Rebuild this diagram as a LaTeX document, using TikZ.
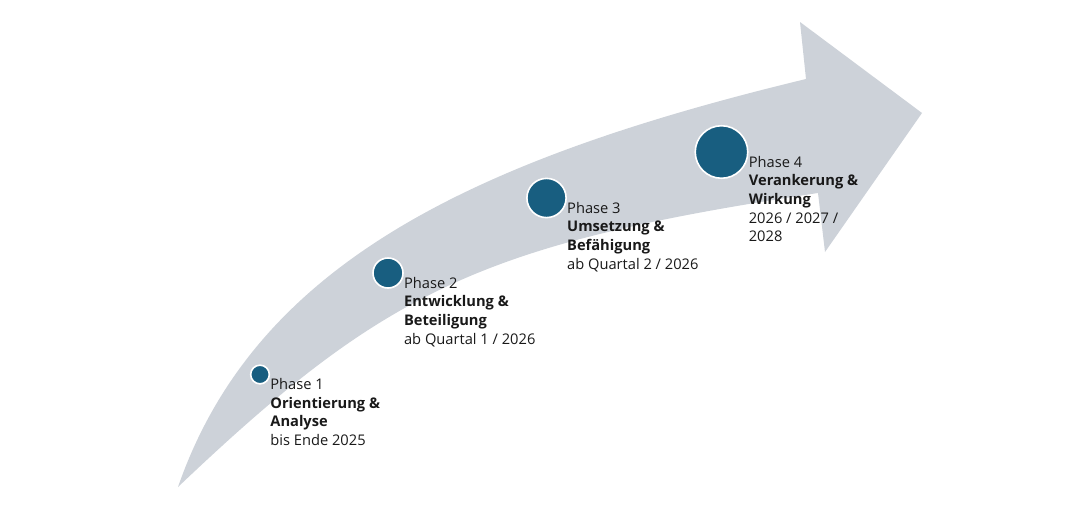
\documentclass[tikz,border=0pt]{standalone}
\usepackage{fontspec}
\setmainfont{Open Sans}
\usepackage{tikz}
\definecolor{phaseblue}{RGB}{24,94,128}
\definecolor{arrowgrey}{RGB}{205,210,217}
\definecolor{textgrey}{RGB}{25,25,25}
\tikzstyle{phase} = [
    circle, fill=phaseblue, draw=white, line width=1.2pt, inner sep=0pt
]
\tikzstyle{phasetext} = [
    anchor=north west, align=left, inner sep=0pt, text=textgrey,
    font=\fontsize{11}{13.9}\selectfont, yshift=-3pt
]

\begin{document}
\begin{tikzpicture}[x=0.75pt, y=-0.75pt]
        \useasboundingbox (0,0) rectangle (1070,525);
        \fill [arrowgrey] (178,487)
            .. controls (255,265) and (470,160) .. (806,79)
            -- (800,22) -- (922,113) -- (825,252) -- (818,193)
            .. controls (481.7,243.8) and (385.6,289.6) .. (178,487)
            -- cycle;
        \node (p1) [phase, minimum size=14pt] at (260,374.5) {};
        \node (p2) [phase, minimum size=22.5pt] at (388,273) {};
        \node (p3) [phase, minimum size=29.4pt] at (546.5,198) {};
        \node (p4) [phase, minimum size=39.4pt] at (721.5,152) {};
        \node (t1) [phasetext] at (p1.east)
            {Phase 1\\\textbf{Orientierung \&}\\\textbf{Analyse}\\bis Ende 2025};
        \node (t2) [phasetext] at (p2.east)
            {Phase 2\\\textbf{Entwicklung \&}\\\textbf{Beteiligung}\\ab Quartal 1 / 2026};
        \node (t3) [phasetext] at (p3.east)
            {Phase 3\\\textbf{Umsetzung \&}\\\textbf{Befähigung}\\ab Quartal 2 / 2026};
        \node (t4) [phasetext] at (p4.east)
            {Phase 4\\\textbf{Verankerung \&}\\\textbf{Wirkung}\\2026 / 2027 /\\2028};
    \end{tikzpicture}
\end{document}
